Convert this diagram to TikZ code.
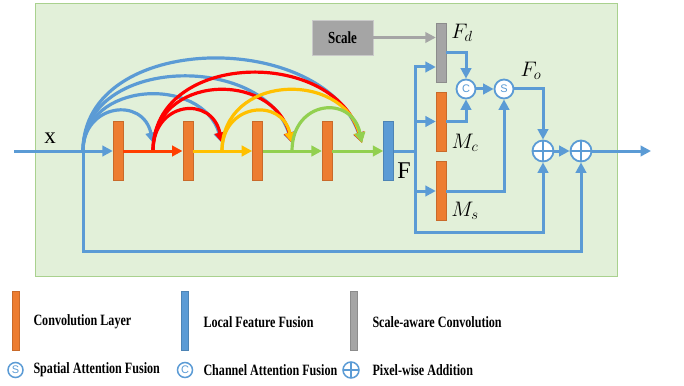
\documentclass[tikz,border=0pt]{standalone}
\usepackage{fix-cm}
\usepackage{fontspec}
\setmainfont{Liberation Serif}
\newfontfamily\circfont{Liberation Sans}
\usetikzlibrary{arrows.meta,positioning}
\definecolor{convorange}{HTML}{ED7D31}
\definecolor{lffblue}{HTML}{5B9BD5}
\definecolor{sacgray}{HTML}{A5A5A5}
\definecolor{bggreen}{HTML}{E2F0D9}
\definecolor{bgedge}{HTML}{A9D18E}
\definecolor{arcred}{HTML}{FF0000}
\definecolor{linered}{HTML}{FF3F00}
\definecolor{arcyellow}{HTML}{FFC000}
\definecolor{arcgreen}{HTML}{92D050}
\newcommand{\tallbf}[1]{\scalebox{1}[1.3]{\bfseries #1}}

\begin{document}
\begin{tikzpicture}[x=1pt,y=-1pt,->,>={Triangle[length=10.5pt,width=10.5pt]},line width=3pt,node distance=69.7pt]
  \tikzstyle{slab}=[rectangle,minimum width=10pt,minimum height=59pt,inner sep=0pt,line width=0.4pt]
  \tikzstyle{conv}=[slab,fill=convorange,draw=convorange!85!black]
  \tikzstyle{lff}=[slab,fill=lffblue,draw=lffblue!85!black]
  \tikzstyle{sac}=[slab,fill=sacgray,draw=sacgray!85!black]
  \tikzstyle{scalebox}=[rectangle,fill=sacgray,draw=sacgray!60!white,line width=0.6pt,minimum width=61pt,minimum height=35pt,font=\fontsize{13}{13}\selectfont]
  \tikzstyle{fuse}=[circle,draw=lffblue,fill=white,line width=1.8pt,minimum size=19pt,inner sep=0pt,text=lffblue,font=\circfont\fontsize{11}{11}\selectfont]
  \tikzstyle{addop}=[circle,draw=lffblue,fill=white,line width=1.8pt,minimum size=21pt,inner sep=0pt,
    path picture={\draw[-,lffblue,line width=1.8pt] (path picture bounding box.north) -- (path picture bounding box.south)
      (path picture bounding box.west) -- (path picture bounding box.east);}]
  \tikzstyle{lbl}=[inner sep=0pt,font=\fontsize{21}{21}\selectfont]
  \tikzstyle{legtext}=[anchor=west,inner sep=0pt,font=\fontsize{12.1}{12.1}\selectfont]
  \tikzstyle{flow}=[draw=lffblue]
  \tikzstyle{skiparc}=[line width=3.2pt]

  \useasboundingbox (0,0) rectangle (684,385);
  \draw[-,fill=bggreen,draw=bgedge,line width=0.8pt] (35,3) rectangle (617,276);

  % dense block
  \node[conv] (C1) at (118,151) {};
  \node[conv] (C2) [right of=C1] {};
  \node[conv] (C3) [right of=C2] {};
  \node[conv] (C4) [right of=C3] {};
  \node[lff]  (LFF) [right=51pt of C4] {};
  \node[lbl,font=\fontsize{24}{24}\selectfont] (flab) at (404,171) {F};
  \node[lbl,font=\fontsize{23}{23}\selectfont] (xlab) at (50,138) {x};

  \coordinate (in) at (14,151);
  \coordinate (j0) at (83,151);
  \coordinate (j1) at (153,151);
  \coordinate (j2) at (222,151);
  \coordinate (j3) at (292,151);
  \coordinate (j4) at (362,151);

  \draw[skiparc,draw=lffblue] (j0) .. controls +(0,-47) and +(-10,-47) .. ([yshift=8pt]j1);
  \draw[skiparc,draw=lffblue] (j0) .. controls +(0,-70) and +(-20,-68) .. ([yshift=8pt]j2);
  \draw[skiparc,draw=lffblue] (j0) .. controls +(0,-95) and +(-29,-91) .. ([yshift=8pt]j3);
  \draw[skiparc,draw=lffblue] (j0) .. controls +(0,-120) and +(-39,-114) .. ([yshift=8pt]j4);
  \draw[skiparc,draw=arcred] (j1) .. controls +(0,-50) and +(-10,-48) .. ([yshift=8pt]j2);
  \draw[skiparc,draw=arcred] (j1) .. controls +(0,-77) and +(-20,-73) .. ([yshift=8pt]j3);
  \draw[skiparc,draw=arcred] (j1) .. controls +(0,-100) and +(-29,-96) .. ([yshift=8pt]j4);
  \draw[skiparc,draw=arcyellow] (j2) .. controls +(0,-48) and +(-10,-46) .. ([yshift=8pt]j3);
  \draw[skiparc,draw=arcyellow] (j2) .. controls +(0,-77) and +(-20,-73) .. ([yshift=8pt]j4);
  \draw[skiparc,draw=arcgreen] (j3) .. controls +(0,-51) and +(-10,-49) .. ([yshift=8pt]j4);

  \path (in) edge[flow]            (C1)
        (C1) edge[draw=linered]    (C2)
        (C2) edge[draw=arcyellow]  (C3)
        (C3) edge[draw=arcgreen]   (C4)
        (C4) edge[draw=arcgreen]   (LFF);

  % attention branches
  \node[sac]  (FD) at (441,52.5) {};
  \node[conv] (MC) at (441,121.5) {};
  \node[conv] (MS) at (441,191) {};
  \node[scalebox] (SC) at (342.5,37.5) {\tallbf{Scale}};
  \node[fuse] (CA) at (466,89) {C};
  \node[fuse] (SA) at (504,89) {S};
  \node[addop] (A1) at (543,151) {};
  \node[addop] (A2) at (581,151) {};
  \node[lbl] (fdl) at (462,33) {$F_d$};
  \node[lbl] (fol) at (531,71) {$F_o$};
  \node[lbl] (mcl) at (465,143) {$M_c$};
  \node[lbl] (msl) at (465,211) {$M_s$};

  \coordinate (br) at (415,151);
  \coordinate (low1) at (415,232);
  \coordinate (low2) at (83,251);
  \coordinate (out) at (651,151);

  \draw[-,flow] (LFF) -- (br);
  \draw[flow] (br) |- ([yshift=-14.5pt]FD.west);
  \draw[flow] (br) |- (MC.west);
  \draw[flow] (br) |- (MS.west);
  \draw[flow] (br) -- (low1) -| (A1.south);
  \draw[draw=sacgray,line width=2.4pt] (SC) -- (SC -| FD.west);
  \draw[flow] (FD.east) -| (CA.north);
  \draw[flow] (MC.east) -| (CA.south);
  \draw[flow] (CA) -- (SA);
  \draw[flow] (MS.east) -| (SA.south);
  \draw[flow] (SA.east) -| (A1.north);
  \draw[flow] (A1) -- (A2);
  \draw[flow] (A2) -- (out);
  \draw[flow] (j0) -- (low2) -| (A2.south);

  % legend
  \node[conv,minimum width=7pt] (lgconv) at (15.5,320.5) {};
  \node[legtext] (lgconvt) at (32,322) {\tallbf{Convolution Layer}};
  \node[lff,minimum width=7pt] (lglff) at (185,320.5) {};
  \node[legtext] (lglfft) at (202,322) {\tallbf{Local Feature Fusion}};
  \node[sac,minimum width=7pt] (lgsac) at (354,320.5) {};
  \node[legtext] (lgsact) at (371,322) {\tallbf{Scale-aware Convolution}};
  \node[fuse,fill=none,minimum size=15pt,line width=1.5pt] (lgsa) at (15.5,370) {S};
  \node[legtext] (lgsat) at (32,370) {\tallbf{Spatial Attention Fusion}};
  \node[fuse,fill=none,minimum size=15pt,line width=1.5pt] (lgca) at (185,370) {C};
  \node[legtext] (lgcat) at (202,370) {\tallbf{Channel Attention Fusion}};
  \node[addop,fill=none,minimum size=16pt,line width=1.5pt] (lgadd) at (351,370) {};
  \node[legtext] (lgaddt) at (371,370) {\tallbf{Pixel-wise Addition}};
\end{tikzpicture}
\end{document}
